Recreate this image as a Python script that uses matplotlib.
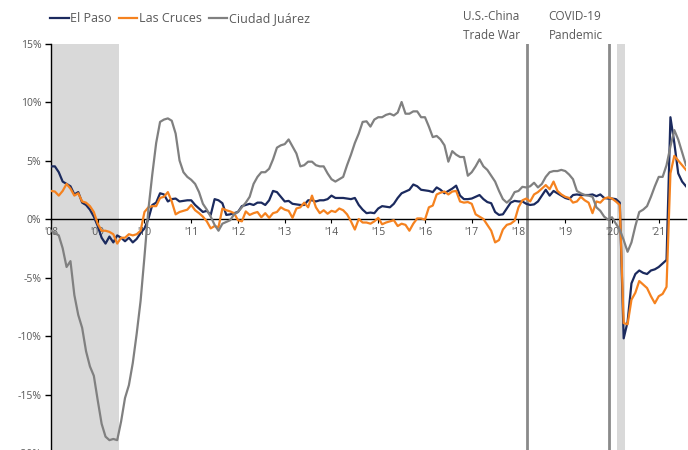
import numpy as np
import matplotlib
matplotlib.use("Agg")
import matplotlib.pyplot as plt
import matplotlib.transforms as mtransforms

plt.rcParams['font.family'] = ['Open Sans', 'DejaVu Sans']

# year-over-year change, monthly, Jan 2008 - Aug 2021 (%)
el_paso = [
    4.5, 4.5, 4.0, 3.2, 3.0, 2.8, 2.1, 2.3, 1.4, 1.2,
    0.8, 0.2, -0.6, -1.6, -2.1, -1.5, -2.0, -1.4, -1.6, -1.9,
    -1.6, -2.0, -1.7, -1.2, -0.8, 0.0, 1.2, 1.4, 2.2, 2.1,
    1.5, 1.7, 1.75, 1.5, 1.55, 1.6, 1.6, 1.2, 0.9, 0.6,
    0.7, 0.35, 1.7, 1.6, 1.35, 0.35, 0.4, 0.5, 0.6, 1.1,
    1.2, 1.3, 1.2, 1.4, 1.4, 1.2, 1.6, 2.4, 2.3, 1.9,
    1.5, 1.55, 1.3, 1.25, 1.2, 1.2, 1.6, 1.6, 1.5, 1.6,
    1.6, 1.7, 2.0, 1.8, 1.8, 1.8, 1.75, 1.7, 1.8, 1.2,
    0.8, 0.5, 0.55, 0.5, 0.9, 1.1, 1.05, 1.0, 1.3, 1.8,
    2.2, 2.35, 2.5, 2.95, 2.8, 2.5, 2.45, 2.4, 2.3, 2.7,
    2.5, 2.2, 2.4, 2.6, 2.85, 2.0, 1.7, 1.7, 1.75, 1.9,
    2.05, 1.7, 1.45, 1.35, 0.6, 0.35, 0.4, 0.9, 1.4, 1.55,
    1.5, 1.5, 1.3, 1.2, 1.25, 1.5, 2.0, 2.5, 2.0, 2.4,
    2.2, 2.0, 1.8, 1.7, 2.05, 2.1, 2.05, 2.05, 2.05, 2.1,
    1.95, 2.1, 1.8, 1.75, 1.75, 1.7, 1.4, -10.2, -8.8, -5.5,
    -4.7, -4.4, -4.6, -4.7, -4.4, -4.3, -4.1, -3.8, -3.5, 8.7,
    6.5, 3.9, 3.2, 2.8,
]
las_cruces = [
    2.4, 2.35, 2.0, 2.4, 3.0, 2.6, 2.0, 2.2, 1.5, 1.4,
    1.1, 0.6, -0.4, -1.0, -1.0, -1.1, -1.3, -2.1, -1.6, -1.6,
    -1.3, -1.4, -1.3, -1.0, 0.6, 1.0, 1.1, 1.1, 1.8, 1.9,
    2.3, 1.5, 0.4, 0.6, 0.7, 0.8, 1.2, 0.75, 0.5, 0.2,
    -0.2, -0.8, -0.6, -0.7, 0.9, 0.75, 0.65, 0.5, -0.1, -0.2,
    0.65, 0.35, 0.5, 0.6, 0.15, 0.5, 0.1, 0.5, 0.6, 1.0,
    0.8, 0.7, 0.1, 0.9, 1.0, 1.4, 1.0, 2.0, 1.0, 0.5,
    0.75, 0.45, 0.7, 0.6, 0.9, 0.75, 0.4, -0.2, -0.9, 0.0,
    -0.3, -0.3, -0.4, -0.2, 0.1, -0.45, -0.3, -0.2, -0.1, -0.6,
    -0.4, -0.5, -1.0, -0.4, 0.05, 0.05, -0.05, 1.0, 1.15, 2.1,
    2.25, 2.35, 2.1, 2.35, 2.4, 1.5, 1.4, 1.45, 1.3, 0.4,
    0.2, 0.0, -0.5, -1.0, -2.0, -1.8, -0.9, -0.5, -0.4, -0.15,
    1.0, 1.6, 1.75, 1.5, 2.1, 2.3, 2.6, 2.9, 2.55, 3.2,
    2.4, 2.1, 1.9, 1.8, 1.4, 1.5, 1.9, 1.6, 1.4, 0.5,
    1.5, 1.4, 1.75, 1.85, 1.75, 1.5, 1.2, -8.9, -9.0, -6.9,
    -6.3, -5.3, -5.6, -5.9, -6.6, -7.2, -6.6, -6.4, -5.8, 3.9,
    5.4, 5.0, 4.6, 4.2,
]
ciudad_juarez = [
    -1.0, -1.2, -1.4, -2.5, -4.1, -3.6, -6.5, -8.2, -9.3, -11.3,
    -12.6, -13.4, -15.5, -17.5, -18.6, -18.9, -18.8, -18.9, -17.3, -15.3,
    -14.2, -12.3, -9.8, -7.0, -3.2, 0.8, 3.8, 6.5, 8.3, 8.5,
    8.6, 8.4, 7.3, 5.0, 4.0, 3.6, 3.35, 3.0, 2.3, 1.3,
    0.8, 0.2, -0.5, -1.0, -0.4, -0.25, -0.1, 0.4, 0.6, 1.0,
    1.4, 1.9, 3.0, 3.6, 4.0, 4.0, 4.3, 5.1, 6.1, 6.3,
    6.4, 6.8, 6.2, 5.6, 4.5, 4.6, 4.9, 4.9, 4.6, 4.5,
    4.5, 3.9, 3.4, 3.2, 3.4, 3.6, 4.6, 5.5, 6.5, 7.3,
    8.3, 8.35, 7.9, 8.5, 8.7, 8.7, 8.9, 9.0, 8.85, 9.1,
    10.0, 9.0, 9.0, 9.2, 9.2, 8.7, 8.7, 7.9, 7.0, 7.1,
    6.8, 6.3, 4.9, 5.8, 5.5, 5.3, 5.3, 3.7, 4.0, 4.5,
    5.1, 4.5, 4.2, 3.7, 3.2, 2.4, 1.7, 1.4, 1.7, 2.3,
    2.4, 2.75, 2.7, 2.8, 3.1, 2.7, 3.0, 3.6, 4.0, 4.1,
    4.1, 4.2, 4.1, 3.8, 3.4, 2.4, 2.2, 2.05, 2.0, 1.9,
    1.0, 0.7, 0.2, -0.05, 0.15, -0.4, -0.9, -1.8, -2.8, -2.0,
    -0.6, 0.6, 0.8, 1.1, 1.9, 2.8, 3.6, 3.6, 4.6, 6.2,
    7.6, 6.8, 5.7, 4.6,
]

series_names = ['El Paso', 'Las Cruces', 'Ciudad Juárez']
series_colors = ['#1b2a5e', '#f5821f', '#808080']
year_labels = ["'08", "'09", "'10", "'11", "'12", "'13", "'14",
               "'15", "'16", "'17", "'18", "'19", "'20", "'21"]
y_ticks = [-20, -15, -10, -5, 0, 5, 10, 15]

# shaded periods and events, in months since Jan 2008
recessions = [(0, 17.5), (145.3, 147.3)]
events = [(122.2, 'U.S.-China\nTrade War'), (143.2, 'COVID-19\nPandemic')]
event_text_x = [105.7, 127.7]

months = np.arange(len(el_paso))
text_color = '#595959'

fig = plt.figure(figsize=(6.88, 4.5), dpi=100)
ax = fig.add_axes([0.0741, -0.0067, 0.923, 0.91])

for start, end in recessions:
    ax.axvspan(start, end, color='#d9d9d9', lw=0, zorder=0)
for (pos, label), tx in zip(events, event_text_x):
    ax.axvline(pos, color='#8a8a8a', lw=2, zorder=1)
    ax.text(tx, 1.003, label, transform=mtransforms.blended_transform_factory(ax.transData, ax.transAxes),
            ha='left', va='bottom', fontsize=8.5, color=text_color, linespacing=1.6)

for vals, name, col in zip([el_paso, las_cruces, ciudad_juarez], series_names, series_colors):
    ax.plot(months, vals, color=col, lw=1.6, label=name, zorder=3)

ax.set_xlim(0, len(el_paso) - 1)
ax.set_ylim(-20, 15)
ax.set_yticks(y_ticks)
ax.set_yticklabels([f'{v}%' for v in y_ticks])
ax.set_xticks(np.arange(len(year_labels)) * 12)
ax.set_xticklabels(year_labels)

ax.spines['top'].set_visible(False)
ax.spines['right'].set_visible(False)
ax.spines['bottom'].set_position(('data', 0))
ax.spines['bottom'].set_linewidth(1.0)
ax.spines['left'].set_linewidth(1.0)
ax.tick_params(axis='y', length=4, width=1, labelsize=7.5, labelcolor=text_color, pad=3)
ax.tick_params(axis='x', length=3, width=0.8, labelsize=7.5, labelcolor=text_color, pad=3)

fig.legend(loc='upper left', bbox_to_anchor=(0.066, 0.984), ncol=3, frameon=False,
           fontsize=9, handlelength=1.45, handletextpad=0.15, columnspacing=0.55,
           labelcolor=text_color, borderaxespad=0)

fig.savefig('out.png', dpi=100)
